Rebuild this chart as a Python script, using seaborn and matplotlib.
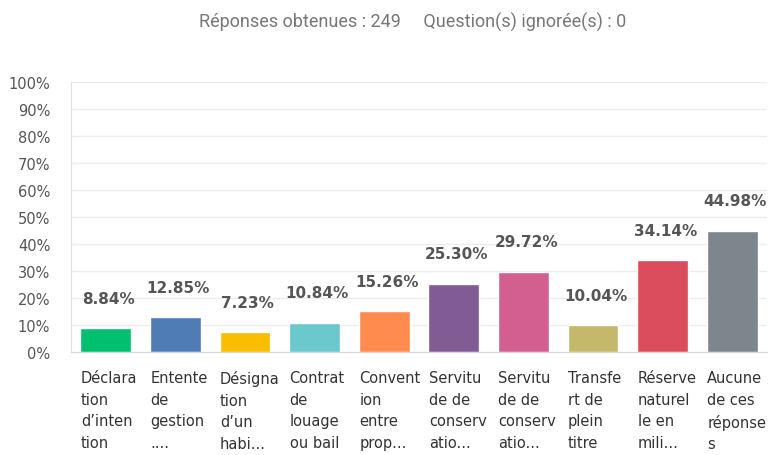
import numpy as np
import pandas as pd
import seaborn as sns
import matplotlib.pyplot as plt
import matplotlib.transforms as mtransforms
from matplotlib.ticker import PercentFormatter

# ======================== 数据 ========================
labels = [
    "Déclara\ntion\nd’inten\ntion",
    "Entente\nde\ngestion\n....",
    "Désigna\ntion\nd’un\nhabi...",
    "Contrat\nde\nlouage\nou bail",
    "Convent\nion\nentre\nprop...",
    "Servitu\nde de\nconserv\natio...",
    "Servitu\nde de\nconserv\natio...",
    "Transfe\nrt de\nplein\ntitre",
    "Réserve\nnaturel\nle en\nmili...",
    "Aucune\nde ces\nréponse\ns",
]
values = [8.84, 12.85, 7.23, 10.84, 15.26, 25.30, 29.72, 10.04, 34.14, 44.98]
colors = ["#00BF6F", "#507CB6", "#F9BE00", "#6BC8CD", "#FF8B4F",
          "#7F5C94", "#D25F90", "#C4B86A", "#DB4D5C", "#7D868C"]
title = "Réponses obtenues : 249     Question(s) ignorée(s) : 0"

df = pd.DataFrame({"cat": [f"c{i}" for i in range(len(values))], "val": values})

# ======================== 绘图 ========================
sns.set_style("white")
plt.rcParams['font.family'] = ['DejaVu Sans']

fig = plt.figure(figsize=(7.72, 4.56), dpi=100)
ax = fig.add_axes([0.0920, 0.226, 0.9015, 0.592])

sns.barplot(data=df, x="cat", y="val", hue="cat", palette=colors,
            legend=False, width=0.73, saturation=1, ax=ax)

ax.set_ylim(0, 100)
ax.set_xlim(-0.5, len(values) - 0.5)
ax.set_yticks(range(0, 101, 10))
ax.yaxis.set_major_formatter(PercentFormatter(decimals=0))
ax.grid(axis='y', color='#ececec', linewidth=1)
ax.set_axisbelow(True)
for s in ['top', 'right']:
    ax.spines[s].set_visible(False)
ax.spines['left'].set_color('#e0e0e0')
ax.spines['bottom'].set_color('#d8d8d8')
ax.set_xlabel('')
ax.set_ylabel('')
ax.tick_params(axis='y', length=0, pad=15, labelsize=10.5, labelcolor='#555555')
ax.tick_params(axis='x', length=0, pad=13, labelsize=10.5, labelcolor='#333333')

# 数值标签
for i, v in enumerate(values):
    ax.annotate(f"{v:.2f}%", (i, v), xytext=(2, 16), textcoords='offset points',
                ha='center', va='bottom', fontsize=11, fontweight='semibold',
                color='#555555')

# x 标签左对齐于柱左边缘
ax.set_xticks(range(len(labels)))
ax.set_xticklabels(labels, ha='left', va='top', linespacing=1.55)
offset = mtransforms.ScaledTranslation(-25 / 100, 0, fig.dpi_scale_trans)
for lab in ax.get_xticklabels():
    lab.set_transform(lab.get_transform() + offset)

fig.text(0.535, 0.95, title, ha='center', va='center', fontsize=13,
         color='#777777', family=['Roboto', 'DejaVu Sans'])

plt.savefig("out.png", dpi=100)
plt.close()
